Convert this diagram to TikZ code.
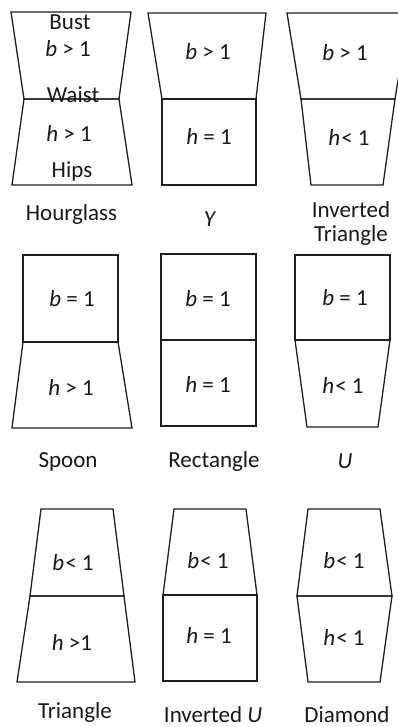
\documentclass[tikz,border=0pt]{standalone}
\usepackage{fontspec}
\setmainfont{Carlito}
\begin{document}
\begin{tikzpicture}[x=1pt,y=-1pt,
  shapeline/.style={draw=black!88, line width=1.3pt, line join=miter},
  midline/.style={draw=black!88, line width=1.9pt},
  inlabel/.style={font=\fontsize{23}{24}\selectfont, anchor=base, inner sep=0pt, text=black!90},
  nmlabel/.style={font=\fontsize{23}{23.5}\selectfont, anchor=base, inner sep=0pt, align=center, text=black!90}]
\useasboundingbox (0,0) rectangle (398,727);
\fill[white] (0,0) rectangle (398,727);
\begin{scope}
\clip (0,0) rectangle (398,727);
% Row 1
% Hourglass
\draw[shapeline] (11,12) -- (131,12) -- (119,99) -- (24,99) -- cycle;
\draw[shapeline] (24,99) -- (119,99) -- (132,185) -- (12,185) -- cycle;
% Y
\draw[shapeline] (148,13) -- (266,13) -- (256,99) -- (162,99) -- cycle;
\draw[shapeline] (162,99) -- (256,99) -- (256,185) -- (162,185) -- cycle;
% Inverted triangle
\draw[shapeline] (287,13) -- (409,13) -- (395,99) -- (301,99) -- cycle;
\draw[shapeline] (301,99) -- (395,99) -- (383,185) -- (311,185) -- cycle;
% Row 2
% Spoon
\draw[shapeline] (23,255) -- (118,255) -- (118,342) -- (23,342) -- cycle;
\draw[shapeline] (23,342) -- (118,342) -- (132,428) -- (12,428) -- cycle;
% Rectangle
\draw[shapeline] (161,254) -- (256,254) -- (256,340) -- (161,340) -- cycle;
\draw[shapeline] (161,340) -- (256,340) -- (256,426) -- (161,426) -- cycle;
\draw[midline] (161,340) -- (256,340);
% U
\draw[shapeline] (295,255) -- (390,255) -- (390,340) -- (295,340) -- cycle;
\draw[shapeline] (295,340) -- (390,340) -- (378,427) -- (307,427) -- cycle;
\draw[midline] (295,340) -- (390,340);
% Row 3
% Triangle
\draw[shapeline] (41,509) -- (113,509) -- (124,596) -- (30,596) -- cycle;
\draw[shapeline] (30,596) -- (124,596) -- (135,682) -- (17,682) -- cycle;
% Inverted U
\draw[shapeline] (174,509) -- (246,509) -- (257,595) -- (163,595) -- cycle;
\draw[shapeline] (163,595) -- (257,595) -- (257,681) -- (163,681) -- cycle;
\draw[midline] (163,595) -- (257,595);
% Diamond
\draw[shapeline] (308,509) -- (380,509) -- (392,596) -- (297,596) -- cycle;
\draw[shapeline] (297,596) -- (392,596) -- (380,682) -- (308,682) -- cycle;
\end{scope}

% Labels row 1
\node[inlabel] (hgbust) at (70,30) {Bust};
\node[inlabel] (hgb) at (68,57) {\textit{b} > 1};
\node[inlabel] (hgwaist) at (73,103) {Waist};
\node[inlabel] (hgh) at (69,142) {\textit{h} > 1};
\node[inlabel] (hghips) at (72,178) {Hips};
\node[nmlabel] (hgname) at (71.5,220) {Hourglass};

\node[inlabel] (yb) at (208,60) {\textit{b} > 1};
\node[inlabel] (yh) at (209,145) {\textit{h} = 1};
\node[nmlabel] (yname) at (210,226) {\textit{Y}};

\node[inlabel] (itb) at (345,61) {\textit{b} > 1};
\node[inlabel] (ith) at (349,146) {\textit{h}\kern1pt< 1};
\node[nmlabel] (itname) at (351,241) {Inverted\\Triangle};

% Labels row 2
\node[inlabel] (spb) at (72,306) {\textit{b} = 1};
\node[inlabel] (sph) at (71,395) {\textit{h} > 1};
\node[nmlabel] (spname) at (68,467) {Spoon};

\node[inlabel] (reb) at (208,306) {\textit{b} = 1};
\node[inlabel] (reh) at (208,392) {\textit{h} = 1};
\node[nmlabel] (rename) at (214,467) {Rectangle};

\node[inlabel] (ub) at (345,305) {\textit{b} = 1};
\node[inlabel] (uh) at (343,393) {\textit{h}\kern1pt< 1};
\node[nmlabel] (uname) at (345,468) {\textit{U}};

% Labels row 3
\node[inlabel] (trb) at (73,570) {\textit{b}\kern1pt< 1};
\node[inlabel] (trh) at (72,650) {\textit{h} >1};
\node[nmlabel] (trname) at (75,718) {Triangle};

\node[inlabel] (iub) at (208,568) {\textit{b}\kern1pt< 1};
\node[inlabel] (iuh) at (209,643) {\textit{h} = 1};
\node[nmlabel] (iuname) at (213,722) {Inverted \textit{U}};

\node[inlabel] (dib) at (344,568) {\textit{b}\kern1pt< 1};
\node[inlabel] (dih) at (344,645) {\textit{h}\kern1pt< 1};
\node[nmlabel] (diname) at (347,722) {Diamond};
\end{tikzpicture}
\end{document}
